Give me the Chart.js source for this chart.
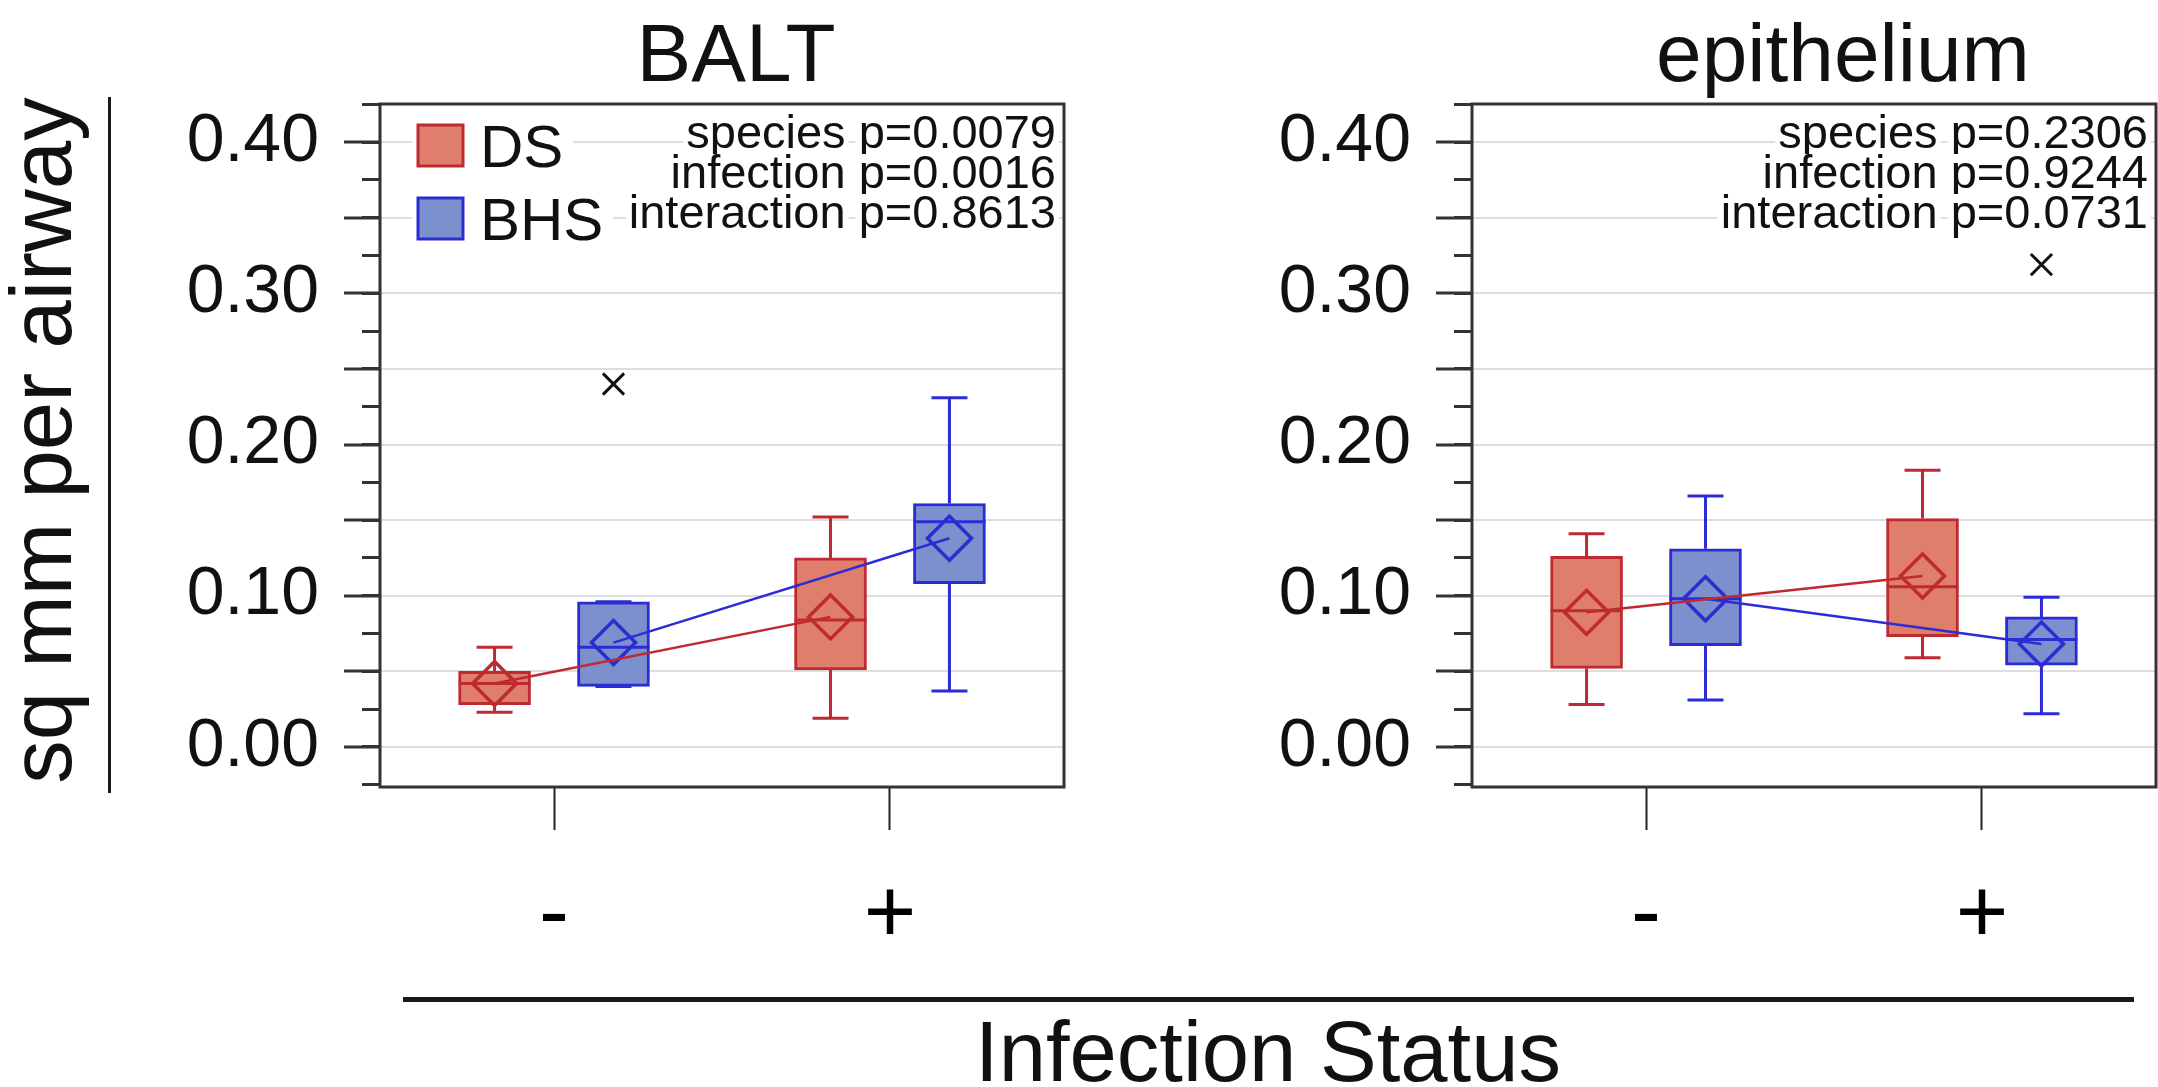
<!DOCTYPE html>
<html>
<head>
<meta charset="utf-8">
<script src="https://cdn.jsdelivr.net/npm/chart.js@4.4.0/dist/chart.umd.min.js"></script>
<style>
  body { margin: 0; width: 2158px; height: 1087px; background: #fff; position: relative; overflow: hidden;
         font-family: "Liberation Sans", Arial, sans-serif; color: #111; }
  canvas { position: absolute; top: 0; }
  #balt { left: 150px; }
  #epi { left: 1242px; }
  .title { position: absolute; line-height: 1; white-space: nowrap; text-align: center; }
  .rule { position: absolute; background: #1a1a1a; }
</style>
</head>
<body>
<div class="title" style="left:536px; top:12px; width:400px; font-size:82px;">BALT</div>
<div class="title" style="left:1643px; top:12px; width:400px; font-size:82px;">epithelium</div>
<div class="title" style="left:-360px; top:397px; width:800px; font-size:87px; transform:rotate(-90deg);">sq mm per airway</div>
<div class="rule" style="left:108px; top:97px; width:3px; height:696px;"></div>
<div class="rule" style="left:403px; top:997px; width:1731px; height:5px;"></div>
<div class="title" style="left:968px; top:1009px; width:600px; font-size:85px;">Infection Status</div>

<canvas id="balt" width="920" height="1000"></canvas>
<canvas id="epi" width="916" height="1000"></canvas>

<script>
// infection status categories and groups
const infection = ['-', '+'];
const species = ['DS', 'BHS'];

// BALT panel
const baltDsQ1 = [0.028, 0.051];
const baltDsQ3 = [0.050, 0.125];
const baltDsMed = [0.042, 0.084];
const baltDsLo = [0.023, 0.019];
const baltDsHi = [0.066, 0.152];
const baltDsMean = [0.042, 0.086];
const baltBhsQ1 = [0.040, 0.108];
const baltBhsQ3 = [0.096, 0.161];
const baltBhsMed = [0.066, 0.149];
const baltBhsLo = [0.040, 0.037];
const baltBhsHi = [0.096, 0.231];
const baltBhsMean = [0.069, 0.138];
const baltOutliers = [{ group: 'BHS', status: '-', value: 0.240 }];
const baltStats = ['species p=0.0079', 'infection p=0.0016', 'interaction p=0.8613'];

// epithelium panel
const epiDsQ1 = [0.052, 0.073];
const epiDsQ3 = [0.126, 0.151];
const epiDsMed = [0.090, 0.106];
const epiDsLo = [0.028, 0.059];
const epiDsHi = [0.141, 0.183];
const epiDsMean = [0.089, 0.113];
const epiBhsQ1 = [0.067, 0.054];
const epiBhsQ3 = [0.131, 0.086];
const epiBhsMed = [0.098, 0.071];
const epiBhsLo = [0.031, 0.022];
const epiBhsHi = [0.166, 0.099];
const epiBhsMean = [0.098, 0.068];
const epiOutliers = [{ group: 'BHS', status: '+', value: 0.319 }];
const epiStats = ['species p=0.2306', 'infection p=0.9244', 'interaction p=0.0731'];

const yMin = -0.0265, yMax = 0.4252;
const xMin = -0.518, xMax = 1.518;
const shift = { DS: -0.177, BHS: 0.177 };
const colors = {
  DS: { fill: '#e07e6c', line: '#bf2a30' },
  BHS: { fill: '#7b90cc', line: '#2c2cd6' }
};
const FONT = '"Liberation Sans", Arial, sans-serif';

// median line and whiskers, drawn right after each box dataset
const boxExtras = {
  id: 'boxExtras',
  afterDatasetDraw(chart, args) {
    const ds = chart.data.datasets[args.index];
    if (!ds.stats) return;
    const y = chart.scales.y;
    const ctx = chart.ctx;
    const s = ds.stats;
    ctx.save();
    ctx.strokeStyle = ds.borderColor;
    ctx.lineWidth = 3;
    args.meta.data.forEach((bar, i) => {
      const half = bar.width / 2;
      const cap = 18;
      const yMed = y.getPixelForValue(s.med[i]);
      const yHi = y.getPixelForValue(s.hi[i]);
      const yLo = y.getPixelForValue(s.lo[i]);
      ctx.beginPath();
      ctx.moveTo(bar.x - half, yMed);
      ctx.lineTo(bar.x + half, yMed);
      ctx.moveTo(bar.x, y.getPixelForValue(s.q3[i]));
      ctx.lineTo(bar.x, yHi);
      ctx.moveTo(bar.x - cap, yHi);
      ctx.lineTo(bar.x + cap, yHi);
      ctx.moveTo(bar.x, y.getPixelForValue(s.q1[i]));
      ctx.lineTo(bar.x, yLo);
      ctx.moveTo(bar.x - cap, yLo);
      ctx.lineTo(bar.x + cap, yLo);
      ctx.stroke();
    });
    ctx.restore();
  }
};

// frame, p-value lines and legend
const panelDecor = {
  id: 'panelDecor',
  afterDraw(chart, args, opts) {
    const ctx = chart.ctx;
    const a = chart.chartArea;
    ctx.save();

    ctx.font = '47px ' + FONT;
    ctx.textBaseline = 'alphabetic';
    ctx.textAlign = 'left';
    const gap = ctx.measureText(' ').width;
    opts.lines.forEach((t, i) => {
      const base = a.top + 44 + i * 40;
      const k = t.indexOf(' p=');
      const parts = [t.slice(0, k), t.slice(k + 1)];
      const wName = ctx.measureText(parts[0]).width;
      const wP = ctx.measureText(parts[1]).width;
      const xP = a.right - 8 - wP;
      const xName = xP - gap - wName;
      ctx.fillStyle = '#fff';
      ctx.fillRect(xName - 3, base - 34, wName + 6, 44);
      ctx.fillRect(xP - 3, base - 34, wP + 6, 44);
      ctx.fillStyle = '#111';
      ctx.fillText(parts[0], xName, base);
      ctx.fillText(parts[1], xP, base);
    });

    if (opts.legend) {
      const boxes = chart.data.datasets.filter(d => d.stats);
      ctx.font = '60px ' + FONT;
      boxes.forEach((d, i) => {
        const top = a.top + 21 + i * 73;
        const wText = ctx.measureText(d.label).width;
        ctx.fillStyle = '#fff';
        ctx.fillRect(a.left + 32, top - 8, 68 + wText + 10, 58);
        ctx.fillStyle = d.backgroundColor;
        ctx.fillRect(a.left + 38, top, 45, 41);
        ctx.strokeStyle = d.borderColor;
        ctx.lineWidth = 3;
        ctx.strokeRect(a.left + 38, top, 45, 41);
        ctx.fillStyle = '#111';
        ctx.fillText(d.label, a.left + 100, top + 42);
      });
    }

    ctx.strokeStyle = '#333';
    ctx.lineWidth = 3;
    ctx.strokeRect(a.left, a.top, a.right - a.left, a.bottom - a.top);
    ctx.restore();
  }
};

function boxDataset(name, q1, q3, med, lo, hi) {
  return {
    type: 'bar',
    label: name,
    order: 3,
    data: infection.map((c, i) => ({ x: i + shift[name], y: [q1[i], q3[i]] })),
    backgroundColor: colors[name].fill,
    borderColor: colors[name].line,
    borderWidth: 3,
    borderSkipped: false,
    barThickness: 72,
    grouped: false,
    stats: { q1, q3, med, lo, hi }
  };
}

function meanDataset(name, mean) {
  return {
    type: 'line',
    label: name + ' mean',
    order: 1,
    data: infection.map((c, i) => ({ x: i + shift[name], y: mean[i] })),
    borderColor: colors[name].line,
    borderWidth: 2.5,
    pointStyle: 'rectRot',
    pointRadius: 22,
    pointBorderWidth: 3.5,
    pointBorderColor: colors[name].line,
    pointBackgroundColor: 'rgba(0,0,0,0)'
  };
}

function outlierDataset(list) {
  return {
    type: 'scatter',
    label: 'outliers',
    order: 2,
    data: list.map(o => ({ x: infection.indexOf(o.status) + shift[o.group], y: o.value })),
    pointStyle: 'crossRot',
    pointRadius: 15,
    borderColor: '#111',
    pointBorderColor: '#111',
    pointBorderWidth: 3
  };
}

const isTenth = v => Math.abs(v * 10 - Math.round(v * 10)) < 1e-6;

function makePanel(id, ds, bhs, outliers, statLines, legend, padRight) {
  new Chart(document.getElementById(id), {
    type: 'bar',
    data: {
      datasets: [
        boxDataset('DS', ds.q1, ds.q3, ds.med, ds.lo, ds.hi),
        boxDataset('BHS', bhs.q1, bhs.q3, bhs.med, bhs.lo, bhs.hi),
        outlierDataset(outliers),
        meanDataset('DS', ds.mean),
        meanDataset('BHS', bhs.mean)
      ]
    },
    options: {
      responsive: false,
      animation: false,
      events: [],
      layout: { autoPadding: false, padding: { top: 104, right: padRight, left: 0, bottom: 0 } },
      plugins: {
        legend: { display: false },
        tooltip: { enabled: false },
        panelDecor: { lines: statLines, legend: legend }
      },
      scales: {
        x: {
          type: 'linear',
          min: xMin,
          max: xMax,
          offset: false,
          ticks: {
            stepSize: 1,
            includeBounds: false,
            padding: 33,
            maxRotation: 0,
            color: '#000',
            font: { size: 90, family: FONT },
            callback: v => infection[v] ?? ''
          },
          grid: { drawOnChartArea: false, offset: false, tickLength: 43, tickColor: '#222', tickWidth: 2 },
          border: { display: false },
          afterFit: s => { s.height = 213; s.paddingLeft = 0; s.paddingRight = 0; }
        },
        y: {
          min: yMin,
          max: yMax,
          weight: 1,
          ticks: {
            stepSize: 0.05,
            includeBounds: false,
            padding: 25,
            color: '#111',
            font: { size: 68, family: FONT },
            callback: v => isTenth(v) ? v.toFixed(2) : ''
          },
          grid: { color: '#dedede', lineWidth: 2, tickLength: 36, tickColor: '#333', tickWidth: 3 },
          border: { display: false },
          afterFit: s => { s.width = 230; }
        },
        yMinor: {
          position: 'left',
          min: yMin,
          max: yMax,
          weight: 0,
          ticks: { stepSize: 0.025, includeBounds: false, callback: () => '' },
          grid: { drawOnChartArea: false, tickLength: 18, tickColor: '#333', tickWidth: 3 },
          border: { display: false },
          afterFit: s => { s.width = 0; }
        }
      }
    },
    plugins: [boxExtras, panelDecor]
  });
}

makePanel('balt',
  { q1: baltDsQ1, q3: baltDsQ3, med: baltDsMed, lo: baltDsLo, hi: baltDsHi, mean: baltDsMean },
  { q1: baltBhsQ1, q3: baltBhsQ3, med: baltBhsMed, lo: baltBhsLo, hi: baltBhsHi, mean: baltBhsMean },
  baltOutliers, baltStats, true, 6);

makePanel('epi',
  { q1: epiDsQ1, q3: epiDsQ3, med: epiDsMed, lo: epiDsLo, hi: epiDsHi, mean: epiDsMean },
  { q1: epiBhsQ1, q3: epiBhsQ3, med: epiBhsMed, lo: epiBhsLo, hi: epiBhsHi, mean: epiBhsMean },
  epiOutliers, epiStats, false, 2);
</script>
</body>
</html>
